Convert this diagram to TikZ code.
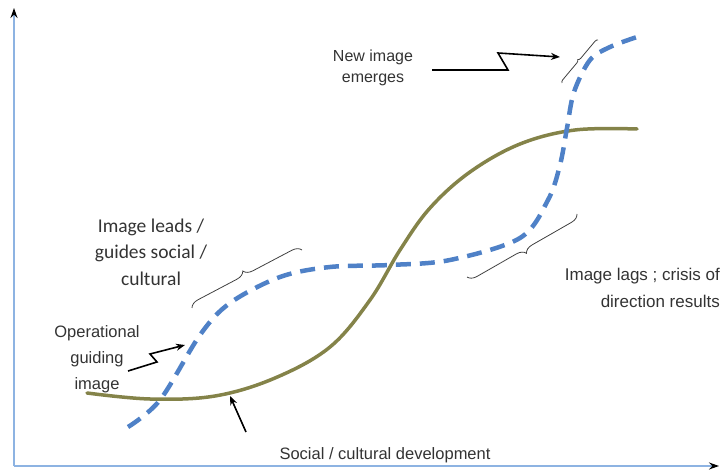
\documentclass[tikz,border=0pt]{standalone}
\usepackage{fontspec}
\setmainfont{Liberation Sans}
\newfontfamily\calibrifont{Carlito}
\usetikzlibrary{arrows.meta,decorations.pathreplacing}
\definecolor{axisblue}{HTML}{8DB3E2}
\definecolor{imageblue}{HTML}{4F81C7}
\definecolor{devolive}{HTML}{848349}
\definecolor{labelgray}{HTML}{333333}
\tikzset{
>=Stealth,
axis/.style={draw=axisblue, line width=2pt, -{Stealth[black,length=10pt,width=7pt]}},
society/.style={draw=devolive, line width=3.5pt, line cap=round},
guideimage/.style={draw=imageblue, line width=4.5pt, dash pattern=on 15pt off 9pt},
tuborg/.style={decorate, decoration={brace, amplitude=#1}, draw=black!75, line width=0.8pt},
remark/.style={text=labelgray, align=center, inner sep=0pt},
zap/.style={draw=black, line width=1.6pt, -{Stealth[length=9pt,width=7pt]}},
}

\begin{document}
\begin{tikzpicture}[x=1pt, y=-1pt]
\useasboundingbox (0,0) rectangle (720,470);

% axes
\coordinate (origin) at (14,466);
\coordinate (ytop) at (14,8);
\coordinate (xend) at (719,466);
\draw[axis] (origin) -- (ytop);
\draw[axis] (origin) -- (xend);

% social / cultural development
\draw[society] plot[smooth, tension=0.6] coordinates {
  (87,393) (150,399) (215,396) (275,378) (330,347) (370,300)
  (400,250) (430,208) (470,172) (520,144) (575,130) (637,129)};

% guiding image
\draw[guideimage] plot[smooth, tension=0.55] coordinates {
  (128,427) (160,400) (200,335) (230,303) (280,277) (330,267)
  (390,265) (450,260) (520,238) (548,200) (560,165) (567,128)
  (574,92) (590,60) (610,47) (637,37)};

% braces
\draw[tuborg=9pt] (192,308) -- (302,250);
\draw[tuborg=9pt] (577,214) -- (467,277);
\draw[tuborg=3pt] (562,83) -- (598,40);

% texts
\node[remark, font=\fontsize{16}{21}\selectfont] (emerges) at (373,68) {New image\\emerges};
\node[remark, font=\calibrifont\fontsize{19.5}{26.5}\selectfont] (leads) at (151,252) {Image leads /\\guides social /\\cultural};
\node[remark, font=\fontsize{16.5}{26}\selectfont] (operational) at (97,359) {Operational\\guiding\\image};
\node[remark, align=right, anchor=east, font=\fontsize{17}{27}\selectfont] (lags) at (720,288) {Image lags ; crisis of\\direction results};
\node[remark, font=\fontsize{16.5}{20}\selectfont] (xlabel) at (385,455) {Social / cultural development};

% pointers
\coordinate (emergestail) at (432,70);
\coordinate (emergestip) at (560,57);
\draw[zap] (emergestail) -- (508,70) -- (498,53) -- (emergestip);
\coordinate (operationaltail) at (128,371);
\coordinate (operationaltip) at (185,345);
\draw[zap] (operationaltail) -- (157,362) -- (150,354) -- (operationaltip);
\coordinate (curvetail) at (246,432);
\coordinate (curvetip) at (230,396);
\draw[zap] (curvetail) -- (curvetip);
\end{tikzpicture}
\end{document}
